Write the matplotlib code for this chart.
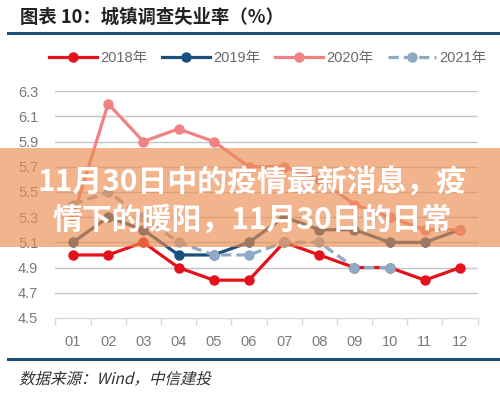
import numpy as np
import matplotlib
matplotlib.use('Agg')
import matplotlib.pyplot as plt
from matplotlib.patches import Rectangle, PathPatch
from matplotlib.lines import Line2D
from matplotlib.textpath import TextPath
from matplotlib.font_manager import FontProperties
from matplotlib.transforms import Affine2D, IdentityTransform

# data
months = ['01', '02', '03', '04', '05', '06', '07', '08', '09', '10', '11', '12']
rate_2018 = [5.0, 5.0, 5.1, 4.9, 4.8, 4.8, 5.1, 5.0, 4.9, 4.9, 4.8, 4.9]
rate_2019 = [5.1, 5.3, 5.2, 5.0, 5.0, 5.1, 5.3, 5.2, 5.2, 5.1, 5.1, 5.2]
rate_2020 = [5.3, 6.2, 5.9, 6.0, 5.9, 5.7, 5.7, 5.6, 5.4, 5.3, 5.2, 5.2]
rate_2021 = [5.4, 5.5, 5.3, 5.1, 5.0, 5.0, 5.1, 5.1, 4.9, 4.9]
yticks = [4.5, 4.7, 4.9, 5.1, 5.3, 5.5, 5.7, 5.9, 6.1, 6.3]

plt.rcParams['font.family'] = ['Liberation Sans', 'Noto Sans CJK SC', 'DejaVu Sans']

fig = plt.figure(figsize=(5, 3.96), dpi=100)
ax = fig.add_axes([0.11, 0.197, 0.846, 0.573])

x = np.arange(1, 13)
c18, c19, c20, c21 = '#e3121b', '#1b4f7c', '#f08282', '#8eaac6'
kw = dict(lw=2.3, marker='o', markersize=6.5)
ax.plot(x, rate_2018, color=c18, label='2018年', **kw)
ax.plot(x, rate_2019, color=c19, label='2019年', **kw)
ax.plot(x, rate_2020, color=c20, label='2020年', **kw)
ax.plot(x[:len(rate_2021)], rate_2021, color=c21, ls=(0, (3.2, 1.6)), label='2021年', **kw)

ax.set_xlim(0.49, 12.51)
ax.set_ylim(4.5, 6.3)
ax.set_yticks(yticks)
ax.set_yticklabels(['%.1f' % v for v in yticks])
ax.set_xticks(x)
ax.set_xticklabels(months)
ax.set_xticks(np.arange(0.5, 13, 1), minor=True)
ax.tick_params(axis='y', length=0, pad=12, labelsize=10.5, labelcolor='#7a7a7a')
ax.tick_params(axis='x', which='major', length=0, pad=12, labelsize=10.5, labelcolor='#7a7a7a')
ax.tick_params(axis='x', which='minor', length=5, width=1, color='#d9d9d9')
for s in ['top', 'right', 'left']:
    ax.spines[s].set_visible(False)
ax.spines['bottom'].set_color('#d9d9d9')
ax.spines['bottom'].set_linewidth(1)
for v in yticks[1:]:
    ax.axhline(v, color='#c4c4c4', lw=1, zorder=0)

# legend
handles = [Line2D([], [], color=c18, marker='o', lw=2.3, markersize=6.5),
           Line2D([], [], color=c19, marker='o', lw=2.3, markersize=6.5),
           Line2D([], [], color=c20, marker='o', lw=2.3, markersize=6.5),
           Line2D([], [], color=c21, marker='o', lw=2.3, markersize=6.5, ls=(0, (3.2, 1.6)))]
fig.legend(handles, ['2018年', '2019年', '2020年', '2021年'], loc='center',
           bbox_to_anchor=(0.535, 1 - 58 / 396), ncol=4, frameon=False,
           handlelength=3.3, handletextpad=0.2, columnspacing=1.0,
           prop={'size': 10.5}, labelcolor='#6a6a6a')

# title, rules and source
fig.text(0.04, 1 - 17 / 396, '图表 10：城镇调查失业率（%）', fontsize=13.2, fontweight='bold',
         va='center', ha='left', color='#222222', family=['Noto Sans CJK SC'])
fig.add_artist(Line2D([8 / 500, 1], [1 - 33 / 396] * 2, color='#1f4e79', lw=2.2))
fig.add_artist(Line2D([8 / 500, 1], [1 - 359 / 396] * 2, color='#1f4e79', lw=2.2))

# italic source line (sheared text path, pixel coordinates)
src = TextPath((0, 0), '数据来源：Wind，中信建投', size=15.5,
               prop=FontProperties(family='Noto Sans CJK SC'))
src_tr = Affine2D().skew_deg(14, 0).translate(19, 396 - 384) + IdentityTransform()
fig.add_artist(PathPatch(src, transform=src_tr, facecolor='#333333', edgecolor='none'))

# overlay banner
fig.add_artist(Rectangle((0, 1 - 247 / 396), 1, 99 / 396, transform=fig.transFigure,
                         facecolor='#eb8d50', alpha=0.65, edgecolor='none', zorder=5))
fig.text(0.505, 1 - 201 / 396, '11月30日中的疫情最新消息，疫\n情下的暖阳，11月30日的日常',
         fontsize=21.5, fontweight='bold', color='white', ha='center', va='center',
         linespacing=1.33, family=['Noto Sans CJK SC'], zorder=6)

fig.savefig('out.png', dpi=100)
